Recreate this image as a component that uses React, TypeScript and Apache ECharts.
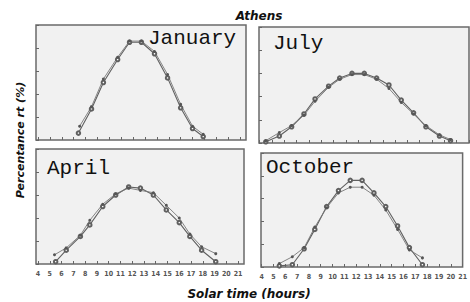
import React, { useEffect, useRef } from "react";
import * as echarts from "echarts";

const hourTicks = [4, 5, 6, 7, 8, 9, 10, 11, 12, 13, 14, 15, 16, 17, 18, 19, 20, 21];

// January
const janMeasured = [[7.4, 6], [8.5, 27], [9.5, 50], [10.7, 70], [11.7, 85], [12.7, 85], [13.8, 75], [14.9, 54], [16, 28], [17, 10], [17.9, 3]];
const janComputed = [[7.5, 12], [8.5, 29], [9.5, 53], [10.7, 72], [11.7, 86], [12.7, 86], [13.8, 77], [14.9, 57], [16, 31], [17, 12], [17.9, 5]];
// July
const julMeasured = [[4.5, 1], [5.6, 6], [6.6, 14], [7.6, 25], [8.5, 38], [9.6, 49], [10.5, 56], [11.5, 60], [12.5, 60], [13.5, 56], [14.5, 50], [15.5, 37], [16.5, 26], [17.5, 14], [18.6, 6], [19.5, 2]];
const julComputed = [[4.5, 2], [5.6, 9], [6.6, 15], [7.6, 24], [8.5, 36], [9.6, 48], [10.5, 55], [11.5, 59], [12.5, 59], [13.5, 55], [14.5, 47], [15.5, 35], [16.5, 25], [17.5, 15], [18.6, 7], [19.5, 3]];
// April
const aprMeasured = [[5.5, 2], [6.4, 12], [7.6, 24], [8.4, 34], [9.5, 50], [10.6, 60], [11.7, 67], [12.7, 66], [13.8, 60], [14.9, 47], [16, 36], [16.9, 24], [17.9, 12], [19.1, 2]];
const aprComputed = [[5.4, 8], [6.4, 14], [7.6, 25], [8.4, 38], [9.5, 52], [10.6, 61], [11.7, 66], [12.7, 64], [13.8, 62], [14.9, 51], [16, 40], [16.9, 26], [17.9, 15], [19.1, 9]];
// October
const octMeasured = [[5.5, 1], [6.6, 2], [7.6, 16], [8.5, 33], [9.5, 53], [10.5, 67], [11.5, 76], [12.5, 76], [13.5, 65], [14.5, 53], [15.5, 36], [16.5, 17], [17.6, 2]];
const octComputed = [[5.5, 3], [6.6, 9], [7.6, 17], [8.5, 35], [9.5, 52], [10.5, 65], [11.5, 70], [12.5, 70], [13.5, 63], [14.5, 50], [15.5, 33], [16.5, 15], [17.6, 8]];

const monthNames = ["January", "July", "April", "October"];

export default function App() {
  const ref = useRef<HTMLDivElement>(null);
  useEffect(() => {
    if (!ref.current) return;
    const chart = echarts.init(ref.current, null, { renderer: "svg" });
    const grids = [
      { left: 36, top: 25, width: 210, height: 115 },
      { left: 259, top: 27, width: 210, height: 116 },
      { left: 36, top: 149, width: 208, height: 115 },
      { left: 261, top: 153, width: 208, height: 114 },
    ];
    const xRanges = [
      [3.83, 21.5],
      [3.95, 21.0],
      [3.83, 21.5],
      [3.95, 21.0],
    ];
    const data = [
      [janMeasured, janComputed],
      [julMeasured, julComputed],
      [aprMeasured, aprComputed],
      [octMeasured, octComputed],
    ];
    const labelPos = [
      [148, 38],
      [273, 43],
      [47, 168],
      [266, 167],
    ];
    const series: any[] = [];
    data.forEach((pair, i) => {
      series.push({
        type: "line",
        xAxisIndex: i,
        yAxisIndex: i,
        data: pair[0],
        symbol: "emptyCircle",
        symbolSize: 3.5,
        lineStyle: { color: "#606060", width: 1.1 },
        itemStyle: { color: "#606060", borderColor: "#606060", borderWidth: 1 },
      });
      series.push({
        type: "line",
        xAxisIndex: i,
        yAxisIndex: i,
        data: pair[1],
        symbol: "circle",
        symbolSize: 3,
        lineStyle: { color: "#777", width: 0.9 },
        itemStyle: { color: "#555" },
      });
    });
    chart.setOption({
      animation: false,
      backgroundColor: "#ffffff",
      grid: grids.map((g) => ({
        ...g,
        show: true,
        backgroundColor: "#f1f1f1",
        borderColor: "#6a6a6a",
        borderWidth: 1.5,
      })),
      xAxis: grids.map((_, i) => ({
        type: "value",
        gridIndex: i,
        min: xRanges[i][0],
        max: xRanges[i][1],
        axisLine: { show: false },
        splitLine: { show: false },
        axisTick: {
          show: true,
          inside: true,
          length: 3,
          customValues: hourTicks,
          lineStyle: { color: "#666" },
        },
        axisLabel: {
          show: i >= 2,
          customValues: hourTicks,
          fontSize: 7,
          color: "#555",
          margin: 6,
          fontFamily: "DejaVu Sans Condensed",
          fontWeight: "bold",
        },
      })),
      yAxis: grids.map((_, i) => ({
        type: "value",
        gridIndex: i,
        min: 0,
        max: 100,
        interval: 20,
        axisLine: { show: false },
        splitLine: { show: false },
        axisTick: { show: true, inside: true, length: 3, lineStyle: { color: "#666" } },
        axisLabel: { show: false },
      })),
      series,
      graphic: [
        ...monthNames.map((m, i) => ({
          type: "text",
          x: labelPos[i][0],
          y: labelPos[i][1],
          style: {
            text: m,
            fontFamily: "Liberation Mono",
            fontSize: 21,
            fill: "#111",
            verticalAlign: "middle",
          },
        })),
        {
          type: "text",
          x: 259,
          y: 16,
          style: {
            text: "Athens",
            fontFamily: "DejaVu Sans",
            fontWeight: "bold",
            fontStyle: "italic",
            fontSize: 12,
            fill: "#111",
            align: "center",
            verticalAlign: "middle",
          },
        },
        {
          type: "text",
          x: 249,
          y: 294,
          style: {
            text: "Solar time (hours)",
            fontFamily: "DejaVu Sans",
            fontWeight: "bold",
            fontStyle: "italic",
            fontSize: 12,
            fill: "#111",
            align: "center",
            verticalAlign: "middle",
          },
        },
        {
          type: "text",
          x: 20,
          y: 140,
          rotation: Math.PI / 2,
          style: {
            text: "Percentance rt (%)",
            fontFamily: "DejaVu Sans",
            fontWeight: "bold",
            fontStyle: "italic",
            fontSize: 11,
            fill: "#111",
            align: "center",
            verticalAlign: "middle",
          },
        },
      ],
    });
    return () => chart.dispose();
  }, []);
  return <div ref={ref} style={{ width: 470, height: 302, position: "absolute", left: 0, top: 0 }} />;
}
